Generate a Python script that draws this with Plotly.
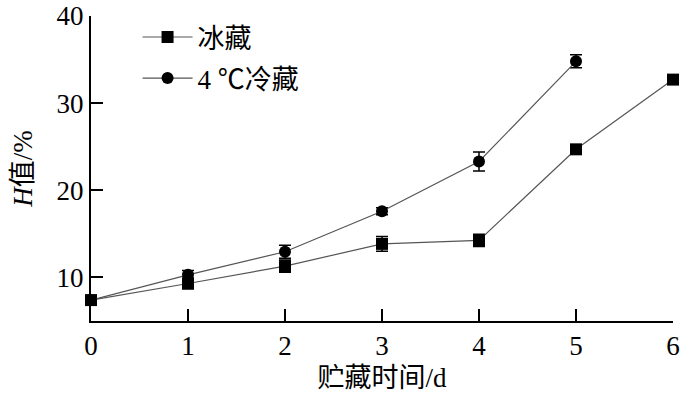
import plotly.graph_objects as go

days = [0, 1, 2, 3, 4, 5, 6]
ice_h = [7.4, 9.3, 11.3, 13.85, 14.25, 24.7, 32.7]
ice_err = [0.35, 0.6, 0.7, 0.85, 0.7, 0.4, 0.3]
cold_days = [0, 1, 2, 3, 4, 5]
cold_h = [7.4, 10.3, 12.95, 17.6, 23.3, 34.8]
cold_err = [0.35, 0.5, 0.75, 0.4, 1.1, 0.75]

x_ticks = [0, 1, 2, 3, 4, 5, 6]
y_ticks = [10, 20, 30, 40]

FONT = "'Liberation Serif', 'Times New Roman', 'Noto Sans CJK SC', serif"
FS = 27

fig = go.Figure()
fig.add_trace(go.Scatter(
    x=days, y=ice_h, name="冰藏", mode="lines+markers",
    line=dict(color="#555555", width=1.2),
    marker=dict(symbol="square", size=12, color="black"),
    error_y=dict(type="data", array=ice_err, color="black", thickness=1.5, width=6),
    legendgroup="a",
))
fig.add_trace(go.Scatter(
    x=cold_days, y=cold_h, name="4 ℃冷藏", mode="lines+markers",
    line=dict(color="#555555", width=1.2),
    marker=dict(symbol="circle", size=12, color="black"),
    error_y=dict(type="data", array=cold_err, color="black", thickness=1.5, width=6),
    legendgroup="b",
))

fig.update_layout(
    width=680, height=400,
    margin=dict(l=91, r=7, t=16, b=79, autoexpand=False),
    plot_bgcolor="white", paper_bgcolor="white",
    font=dict(family=FONT, size=FS, color="black"),
    showlegend=True,
    legend=dict(x=0.08, y=1.01, xanchor="left", yanchor="top",
                bgcolor="rgba(0,0,0,0)", font=dict(size=FS, family=FONT),
                tracegroupgap=3, itemwidth=50),
    xaxis=dict(range=[0, 6], tickvals=x_ticks, ticks="inside", ticklen=12,
               tickwidth=2, tickcolor="black", showline=True, linecolor="black",
               linewidth=2, showgrid=False, zeroline=False,
               ticklabeloverflow="allow",
               title=dict(text="贮藏时间/d", standoff=8, font=dict(size=FS)),
               tickfont=dict(size=FS)),
    yaxis=dict(range=[5, 40], tickvals=y_ticks, ticks="inside", ticklen=12,
               tickwidth=2, tickcolor="black", showline=True, linecolor="black",
               linewidth=2, showgrid=False, zeroline=False,
               ticklabeloverflow="allow",
               title=dict(text="<i>H</i>值/%", standoff=16, font=dict(size=FS)),
               tickfont=dict(size=FS)),
)
for tr in fig.data:
    tr.cliponaxis = False

fig.write_html("out.html", config={"displayModeBar": False},
               post_script="document.body.style.margin='0';document.body.style.padding='0';document.body.style.overflow='hidden';")
